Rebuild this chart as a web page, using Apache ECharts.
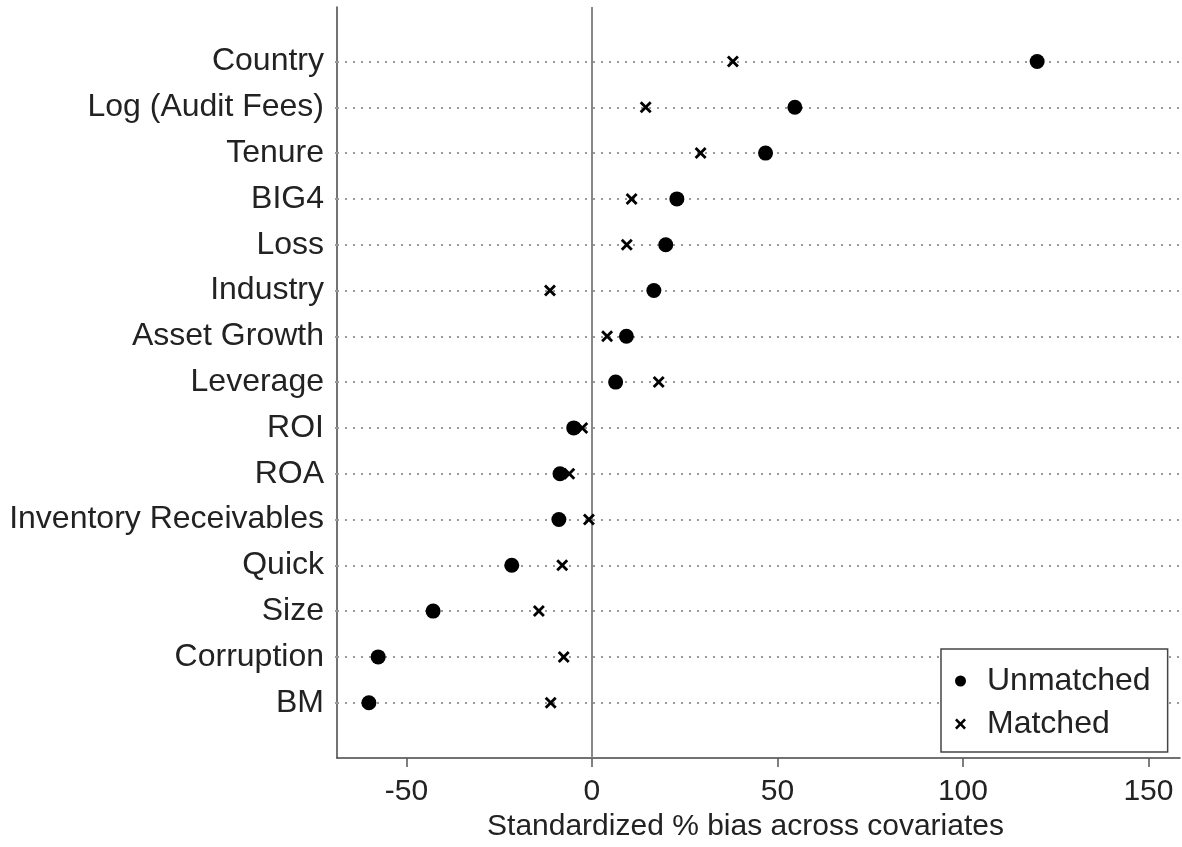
<!DOCTYPE html>
<html>
<head>
<meta charset="utf-8">
<script src="https://cdn.jsdelivr.net/npm/echarts@6/dist/echarts.min.js"></script>
<style>
html,body{margin:0;padding:0;background:#fff;}
#chart{width:1182px;height:847px;}
</style>
</head>
<body>
<div id="chart"></div>
<script>
const categories = ["Country","Log (Audit Fees)","Tenure","BIG4","Loss","Industry","Asset Growth","Leverage","ROI","ROA","Inventory Receivables","Quick","Size","Corruption","BM"];
const unmatched = [120.0, 54.7, 46.8, 22.9, 19.9, 16.7, 9.3, 6.4, -4.9, -8.6, -8.9, -21.6, -42.8, -57.6, -60.1];
const matched = [38.0, 14.5, 29.3, 10.7, 9.4, -11.3, 4.1, 18.0, -2.6, -6.1, -0.8, -8.0, -14.3, -7.6, -11.1];
const xTicks = [-50, 0, 50, 100, 150];
const xTitle = "Standardized % bias across covariates";
const seriesNames = ["Unmatched", "Matched"];

const FONT = "Liberation Sans, Arial, sans-serif";
const rowPos = categories.map((c, i) => i + 1);
const crossPath = "path://M0,2 L2,0 L6,4 L10,0 L12,2 L8,6 L12,10 L10,12 L6,8 L2,12 L0,10 L4,6 Z";

const chart = echarts.init(document.getElementById('chart'), null, {renderer: 'canvas'});
chart.setOption({
  animation: false,
  backgroundColor: '#fff',
  textStyle: {fontFamily: FONT},
  grid: {left: 337, right: 2, top: 7, bottom: 82},
  xAxis: {
    type: 'value', min: -68.7, max: 158.5,
    name: xTitle, nameLocation: 'middle', nameGap: 47,
    nameTextStyle: {fontSize: 30, color: '#222', fontFamily: FONT, padding: [0, 26, 0, 0]},
    axisLine: {show: true, onZero: false, lineStyle: {color: '#444', width: 1.5}},
    axisTick: {show: true, customValues: xTicks, length: 9, lineStyle: {color: '#555', width: 1.5}},
    axisLabel: {customValues: xTicks, fontSize: 30, color: '#222', margin: 19, fontFamily: FONT},
    splitLine: {show: false}
  },
  yAxis: {
    type: 'value', inverse: true, min: -0.19, max: 16.21,
    axisLine: {show: true, onZero: false, lineStyle: {color: '#444', width: 1.5}},
    axisTick: {show: true, customValues: rowPos, length: 6, lineStyle: {color: '#999', width: 2, type: [2, 6]}},
    axisLabel: {customValues: rowPos, fontSize: 32, color: '#222', margin: 13, fontFamily: FONT,
      padding: [5, 0, 0, 0],
      formatter: v => categories[Math.round(v) - 1] || ''},
    splitLine: {show: false}
  },
  legend: {
    orient: 'vertical', left: 941, top: 649,
    data: seriesNames,
    backgroundColor: '#fff', borderColor: '#444', borderWidth: 1.5,
    padding: [15, 17, 11, 14],
    itemWidth: 11, itemHeight: 11, itemGap: 9,
    textStyle: {fontSize: 32, color: '#222', fontFamily: FONT, lineHeight: 34, padding: [0, 0, 0, 16]}
  },
  series: [
    {
      name: 'refLines', type: 'scatter', data: [], z: 1, silent: true,
      markLine: {
        silent: true, symbol: 'none', label: {show: false}, animation: false, z: 1,
        data: rowPos.map(p => ({yAxis: p, lineStyle: {color: '#999', type: [2, 6], width: 2}}))
          .concat([{xAxis: 0, lineStyle: {color: '#888', type: 'solid', width: 2}}])
      }
    },
    {
      name: seriesNames[0], type: 'scatter', symbol: 'circle', symbolSize: 15,
      itemStyle: {color: '#000', opacity: 1},
      data: unmatched.map((v, i) => [v, rowPos[i]]),
      z: 10
    },
    {
      name: seriesNames[1], type: 'scatter', symbol: crossPath, symbolSize: 12,
      itemStyle: {color: '#000', opacity: 1},
      data: matched.map((v, i) => [v, rowPos[i]]),
      z: 11
    }
  ]
});
</script>
</body>
</html>
